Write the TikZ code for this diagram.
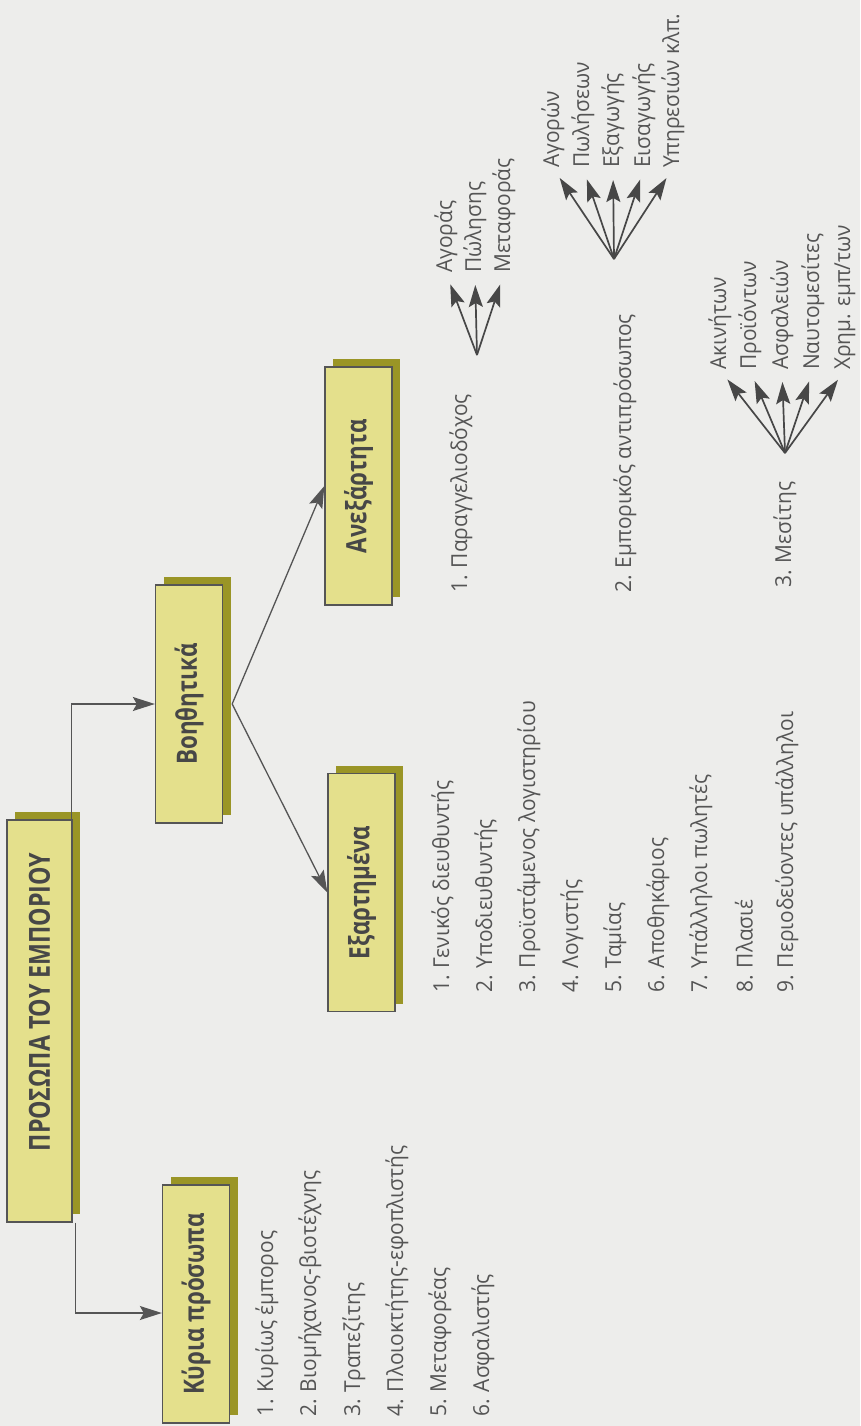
\documentclass[tikz,border=0pt]{standalone}
\usepackage{fontspec}
\setmainfont{Open Sans}[FakeStretch=0.95]
\newfontfamily\boxfont{Open Sans}[FakeStretch=0.8]
\usetikzlibrary{positioning,shadows,calc,arrows.meta}
\definecolor{paper}{HTML}{EDEDEB}
\definecolor{boxfill}{HTML}{E4E08C}
\definecolor{boxshade}{HTML}{9A9526}
\definecolor{inkgray}{HTML}{555555}

\begin{document}
\begin{tikzpicture}[x=1pt, y=-1pt, >={Stealth[length=22pt,width=14pt,inset=4pt]},
  box/.style={draw=inkgray, line width=1.3pt, fill=boxfill, minimum width=67pt, minimum height=238pt, inner sep=0pt,
    font=\boxfont\bfseries\fontsize{28}{28}\selectfont, text=black!72,
    general shadow={fill=boxshade, shadow xshift=8pt, shadow yshift=8pt}},
  item/.style={rotate=90, anchor=west, inner sep=0pt, font=\fontsize{22}{22}\selectfont, text=inkgray},
  link/.style={draw=inkgray, line width=1.3pt, ->},
  fan/.style={draw=black!72, line width=1.7pt, ->, shorten >=12pt}]

  \useasboundingbox (0,0) rectangle (860,1426);
  \fill[paper] (0,0) rectangle (860,1426);

  % boxes
  \node[box, minimum width=65pt, minimum height=402pt, font=\boxfont\bfseries\fontsize{29}{29}\selectfont] (prosopa) at (39.5,1021) {\rotatebox{90}{\hspace{38pt}ΠΡΟΣΩΠΑ ΤΟΥ ΕΜΠΟΡΙΟΥ}};
  \node[box] (kyria) at (196,1304) {\rotatebox{90}{Κύρια πρόσωπα}};
  \node[box] (voith) at (189,704) {\rotatebox{90}{Βοηθητικά}};
  \node[box] (anex) at (358.5,486) {\rotatebox{90}{Ανεξάρτητα}};
  \node[box] (exart) at (361.5,892.5) {\rotatebox{90}{Εξαρτημένα}};

  \draw[link] ([xshift=-1pt]prosopa.north east) |- (voith.west);
  \draw[link] ([xshift=3pt]prosopa.south east) |- ([yshift=-9pt]kyria.west);
  \coordinate (split) at ([xshift=9pt]voith.east);
  \draw[link] (split) -- (anex.west);
  \draw[link] (split) -- (exart.west);

  % Κύρια πρόσωπα
  \node[item] (k1) at (267,1417) {1. Κυρίως έμπορος};
  \node[item] (k2) at (310,1417) {2. Βιομήχανος-βιοτέχνης};
  \node[item] (k3) at (354,1417) {3. Τραπεζίτης};
  \node[item] (k4) at (397,1417) {4. Πλοιοκτήτης-εφοπλιστής};
  \node[item] (k5) at (440,1417) {5. Μεταφορέας};
  \node[item] (k6) at (483,1417) {6. Ασφαλιστής};

  % Εξαρτημένα
  \node[item] (e1) at (443,993) {1. Γενικός διευθυντής};
  \node[item] (e2) at (486,993) {2. Υποδιευθυντής};
  \node[item] (e3) at (529,993) {3. Προϊστάμενος λογιστηρίου};
  \node[item] (e4) at (572,993) {4. Λογιστής};
  \node[item] (e5) at (615,993) {5. Ταμίας};
  \node[item] (e6) at (658,993) {6. Αποθηκάριος};
  \node[item] (e7) at (701,993) {7. Υπάλληλοι πωλητές};
  \node[item] (e8) at (744,993) {8. Πλασιέ};
  \node[item] (e9) at (787,993) {9. Περιοδεύοντες υπάλληλοι};

  % Ανεξάρτητα
  \node[item] (a1) at (461,593) {1. Παραγγελιοδόχος};
  \node[item] (a2) at (625,593) {2. Εμπορικός αντιπρόσωπος};
  \node[item] (a3) at (785,588) {3. Μεσίτης};

  \coordinate (f1) at (477,355);
  \node[item] (p1) at (446,273) {Αγοράς};
  \node[item] (p2) at (475,273) {Πώλησης};
  \node[item] (p3) at (504,273) {Μεταφοράς};
  \draw[fan] (f1) -- (p1.west);
  \draw[fan] (f1) -- (p2.west);
  \draw[fan] (f1) -- (p3.west);

  \coordinate (f2) at (614,259);
  \node[item] (r1) at (553,168) {Αγορών};
  \node[item] (r2) at (583,168) {Πωλήσεων};
  \node[item] (r3) at (613,168) {Εξαγωγής};
  \node[item] (r4) at (644,168) {Εισαγωγής};
  \node[item] (r5) at (673,168) {Υπηρεσιών κλπ.};
  \draw[fan] (f2) -- (r1.west);
  \draw[fan] (f2) -- (r2.west);
  \draw[fan] (f2) -- (r3.west);
  \draw[fan] (f2) -- (r4.west);
  \draw[fan] (f2) -- (r5.west);

  \coordinate (f3) at (785,453);
  \node[item] (m1) at (720,370) {Ακινήτων};
  \node[item] (m2) at (750,370) {Προϊόντων};
  \node[item] (m3) at (782,370) {Ασφαλειών};
  \node[item] (m4) at (813,370) {Ναυτομεσίτες};
  \node[item] (m5) at (845,370) {Χρημ. εμπ/των};
  \draw[fan] (f3) -- (m1.west);
  \draw[fan] (f3) -- (m2.west);
  \draw[fan] (f3) -- (m3.west);
  \draw[fan] (f3) -- (m4.west);
  \draw[fan] (f3) -- (m5.west);
\end{tikzpicture}
\end{document}
